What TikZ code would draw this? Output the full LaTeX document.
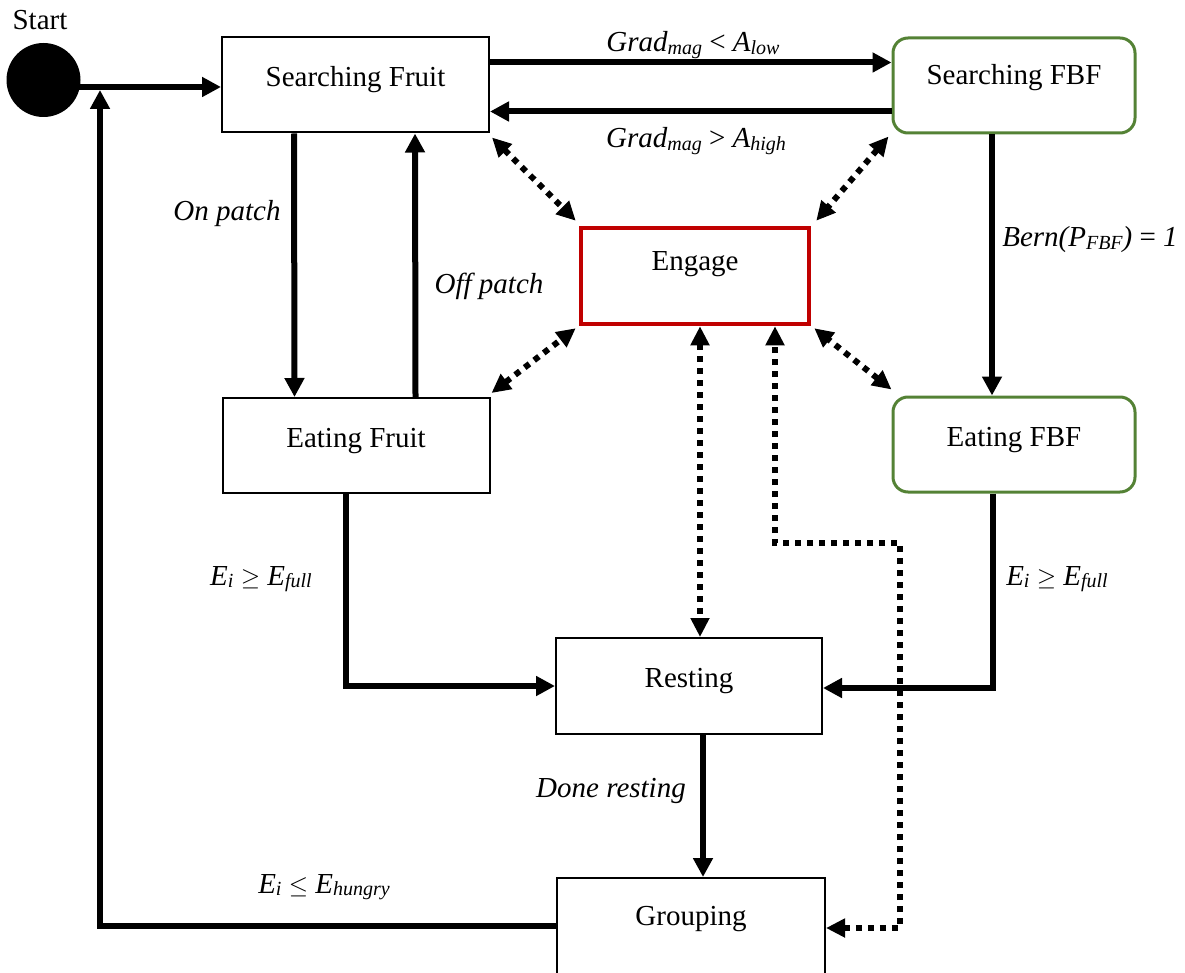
\documentclass[tikz,border=0pt]{standalone}
\usepackage{fontspec}
\setmainfont{Liberation Serif}
\usetikzlibrary{arrows.meta}
\definecolor{fbfgreen}{RGB}{84,130,53}
\definecolor{engred}{RGB}{192,0,0}
\newcommand\sbs[1]{\raisebox{-0.08em}{\fontsize{20}{20}\selectfont #1}}
\begin{document}
\begin{tikzpicture}[x=1pt,y=-1pt, font=\fontsize{29}{34}\selectfont,
 box/.style={draw=black, line width=2pt, minimum width=267pt, minimum height=95pt, inner sep=0pt},
 gbox/.style={draw=fbfgreen, line width=3pt, rounded corners=15pt, minimum width=242pt, minimum height=95pt, inner sep=0pt},
 rbox/.style={draw=engred, line width=4.5pt, minimum width=228pt, minimum height=96pt, inner sep=0pt},
 txt/.style={anchor=base, inner sep=0pt},
 lbl/.style={anchor=base, inner sep=0pt, font=\fontsize{29}{34}\selectfont\itshape},
 arr/.style={line width=6pt, -{Triangle[length=19pt,width=19pt]}},
 darr/.style={line width=6pt, dash pattern=on 6pt off 6pt, {Triangle[length=19pt,width=18pt]}-{Triangle[length=19pt,width=18pt]}},
]
\useasboundingbox (0,0) rectangle (1185,973);
% nodes
\node[circle, fill=black, minimum size=74pt, inner sep=0pt] (start) at (43.5,80) {};
\node[txt] (starttxt) at (40,30) {Start};
\node[box] (sf) at (355.5,85) {};
\node[txt] (sftxt) at (355.5,87) {Searching Fruit};
\node[gbox] (sfbf) at (1014,85.5) {};
\node[txt] (sfbftxt) at (1014,85) {Searching FBF};
\node[rbox] (eng) at (695,276) {};
\node[txt] (engtxt) at (695,271) {Engage};
\node[box] (ef) at (356,445.5) {};
\node[txt] (eftxt) at (356,447) {Eating Fruit};
\node[gbox] (efbf) at (1014,444.5) {};
\node[txt] (efbftxt) at (1014,446) {Eating FBF};
\node[box, minimum width=266pt, minimum height=96pt] (rest) at (689,686) {};
\node[txt] (resttxt) at (689,687) {Resting};
\node[box, minimum width=268pt, minimum height=200pt] (grp) at (691,978) {};
\node[txt] (grptxt) at (691,925) {Grouping};
\coordinate (ret) at (100,87);
\coordinate (c1) at (900,543);
% solid connectors
\draw[arr] ([yshift=-7pt]start.center) -- ([yshift=-2pt]sf.west);
\draw[arr] ([yshift=-49pt]grp.north west) -| ([yshift=-3pt]ret);
\draw[arr] ([yshift=-26pt]sf.north east) -- ([yshift=-26pt]sfbf.north west);
\draw[arr] ([yshift=-75pt]sfbf.north west) -- ([yshift=-75pt]sf.north east);
\draw[arr] ([xshift=73pt]sf.south west) -- ([xshift=73pt]ef.north west);
\draw[arr] ([xshift=194pt]ef.north west) -- ([xshift=194pt]sf.south west);
\draw[arr] ([xshift=-22pt]sfbf.south) -- ([xshift=-22pt]efbf.north);
\draw[arr] ([xshift=124pt]ef.south west) |- (rest.west);
\draw[arr] ([xshift=-21pt]efbf.south) |- ([yshift=-2pt]rest.east);
\draw[arr] ([xshift=14pt]rest.south) -- ([xshift=12pt]grp.north);
% dotted connectors
\draw[darr] ([xshift=2pt,yshift=-4pt]sf.south east) -- ([xshift=-3pt,yshift=5pt]eng.north west);
\draw[darr] ([xshift=-3pt,yshift=-2pt]sfbf.south west) -- ([xshift=5pt,yshift=5pt]eng.north east);
\draw[darr] ([xshift=1pt,yshift=4pt]ef.north east) -- ([xshift=-3pt,yshift=-2pt]eng.south west);
\draw[darr] ([yshift=6pt]efbf.north west) -- ([xshift=3pt,yshift=-2pt]eng.south east);
\draw[darr] ([xshift=5pt]eng.south) -- ([xshift=11pt]rest.north);
\draw[darr] ([yshift=-51pt]grp.north east) -| (c1) -| ([xshift=80pt]eng.south);
% labels
\node[lbl] (l1) at (693,52) {Grad\sbs{mag} \upshape<\itshape{} A\sbs{low}};
\node[lbl] (l2) at (696,148) {Grad\sbs{mag} \upshape>\itshape{} A\sbs{high}};
\node[lbl] (l3) at (227,221) {On patch};
\node[lbl] (l4) at (489,294) {Off patch};
\node[lbl] (l5) at (1090,247) {Bern(P\sbs{FBF})\upshape{} = \itshape 1};
\node[lbl] (l6) at (261,585) {E\sbs{i} $\geq$ E\sbs{full}};
\node[lbl] (l7) at (1057,585) {E\sbs{i} $\geq$ E\sbs{full}};
\node[lbl] (l8) at (611,797) {Done resting};
\node[lbl] (l9) at (324,893) {E\sbs{i} $\leq$ E\sbs{hungry}};
\end{tikzpicture}
\end{document}
